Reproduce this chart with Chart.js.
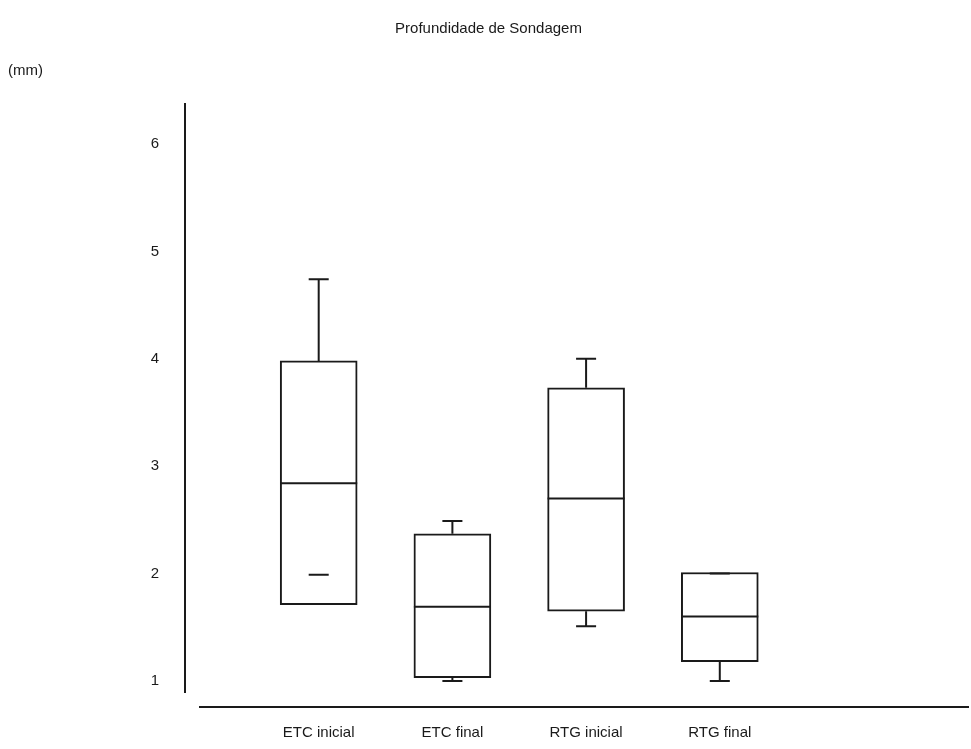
<!DOCTYPE html>
<html>
<head>
<meta charset="utf-8">
<script src="https://cdn.jsdelivr.net/npm/chart.js@4/dist/chart.umd.min.js"></script>
<style>
html,body{margin:0;padding:0;background:#fff;}
#wrap{width:971px;height:749px;}
</style>
</head>
<body>
<div id="wrap"><canvas id="c" width="971" height="749"></canvas></div>
<script>
const categories = ["ETC inicial", "ETC final", "RTG inicial", "RTG final"];
const whiskerHigh = [4.74, 2.49, 4.00, 2.00];
const q3 = [3.98, 2.37, 3.73, 2.01];
const median = [2.84, 1.69, 2.70, 1.60];
const q1 = [1.71, 1.03, 1.65, 1.18];
const whiskerLow = [1.99, 1.00, 1.51, 1.00];
const yTicks = [1, 2, 3, 4, 5, 6];

const FONT = "'Liberation Sans', Arial, sans-serif";
const INK = '#1a1a1a';

const boxData = categories.map((c, i) => ({ x: i, y: [q1[i], q3[i]] }));

const boxPlugin = {
  id: 'boxWhiskers',
  afterDatasetsDraw(chart) {
    const ctx = chart.ctx;
    const ys = chart.scales.y;
    const meta = chart.getDatasetMeta(0);
    ctx.save();
    ctx.strokeStyle = INK;
    ctx.lineWidth = 2;
    meta.data.forEach((bar, i) => {
      const x = bar.x;
      const half = bar.width / 2;
      const capHalf = bar.width * 0.13;
      const yMed = ys.getPixelForValue(median[i]);
      ctx.beginPath();
      ctx.moveTo(x - half, yMed);
      ctx.lineTo(x + half, yMed);
      ctx.stroke();
      const yQ3 = ys.getPixelForValue(q3[i]);
      const yQ1 = ys.getPixelForValue(q1[i]);
      const yHi = ys.getPixelForValue(whiskerHigh[i]);
      const yLo = ys.getPixelForValue(whiskerLow[i]);
      ctx.beginPath();
      if (whiskerHigh[i] > q3[i]) { ctx.moveTo(x, yQ3); ctx.lineTo(x, yHi); }
      ctx.moveTo(x - capHalf, yHi); ctx.lineTo(x + capHalf, yHi);
      if (whiskerLow[i] < q1[i]) { ctx.moveTo(x, yQ1); ctx.lineTo(x, yLo); }
      ctx.moveTo(x - capHalf, yLo); ctx.lineTo(x + capHalf, yLo);
      ctx.stroke();
    });
    // axis lines
    const a = chart.chartArea;
    ctx.beginPath();
    ctx.moveTo(a.left, a.top);
    ctx.lineTo(a.left, a.bottom);
    ctx.moveTo(a.left + 14, a.bottom + 14);
    ctx.lineTo(a.right, a.bottom + 14);
    ctx.stroke();
    ctx.restore();
  }
};

new Chart(document.getElementById('c'), {
  type: 'bar',
  data: {
    datasets: [{
      data: boxData,
      backgroundColor: '#ffffff',
      borderColor: INK,
      borderWidth: 2,
      borderSkipped: false,
      barThickness: 77
    }]
  },
  options: {
    responsive: false,
    animation: false,
    events: [],
    layout: { padding: { left: 8, right: 2, top: 0, bottom: 0 } },
    plugins: {
      legend: { display: false },
      tooltip: { enabled: false },
      title: {
        display: true,
        text: 'Profundidade de Sondagem',
        color: INK,
        font: { family: FONT, size: 15, weight: 'normal', lineHeight: 1.2 },
        padding: { top: 20, bottom: 0 }
      },
      subtitle: {
        display: true,
        text: '(mm)',
        align: 'start',
        color: INK,
        font: { family: FONT, size: 15, weight: 'normal', lineHeight: 1.2 },
        padding: { top: 24, bottom: 23 }
      }
    },
    scales: {
      x: {
        type: 'linear',
        offset: false,
        min: -1,
        max: 4.864,
        grid: { display: false, drawTicks: false, offset: false },
        border: { display: false },
        afterBuildTicks(s) { s.ticks = categories.map((c, i) => ({ value: i })); },
        afterFit(s) { s.height = 56; },
        ticks: {
          color: INK,
          padding: 31,
          maxRotation: 0,
          autoSkip: false,
          font: { family: FONT, size: 15 },
          callback: (v) => categories[v]
        }
      },
      y: {
        min: 0.888,
        max: 6.382,
        grid: { display: false, drawTicks: false },
        border: { display: false },
        afterBuildTicks(s) { s.ticks = yTicks.map(v => ({ value: v })); },
        afterFit(s) { s.width = 177; },
        ticks: {
          color: INK,
          padding: 26,
          font: { family: FONT, size: 15 },
          callback: (v) => String(v)
        }
      }
    }
  },
  plugins: [boxPlugin]
});
</script>
</body>
</html>
